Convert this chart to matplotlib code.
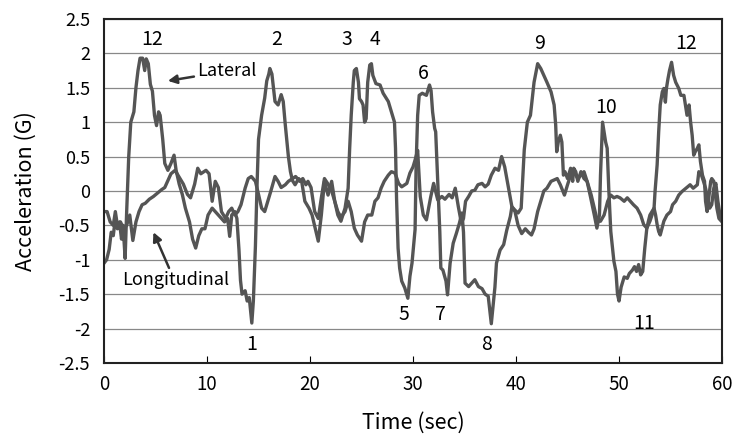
import matplotlib.pyplot as plt
import numpy as np

# lateral acceleration trace (time in sec, value in G)
lat_t = [0, 0.25, 0.5, 0.7, 0.9, 1.1, 1.3, 1.5, 1.7, 1.85, 2.05, 2.2, 2.4, 2.6, 2.9, 3.1, 3.3, 3.5,
         3.75, 3.95, 4.1, 4.3, 4.5, 4.7, 4.9, 5.1, 5.3, 5.45, 5.7, 5.9, 6.2, 6.5, 6.8, 7.0, 7.3,
         7.6, 7.9, 8.3, 8.6, 8.9, 9.2, 9.5, 9.8, 10.1, 10.5, 10.8, 11.1, 11.4, 11.7, 12.0, 12.2,
         12.4, 12.7, 12.9, 13.1, 13.25, 13.4, 13.7, 13.9, 14.1, 14.35, 14.5, 14.7, 14.85, 15.0,
         15.3, 15.6, 15.8, 16.0, 16.1, 16.3, 16.45, 16.6, 16.9, 17.2, 17.4, 17.6, 17.9, 18.1,
         18.3, 18.55, 18.9, 19.2, 19.5, 19.9, 20.2, 20.5, 20.8, 21.1, 21.4, 21.75, 22.1, 22.4,
         22.7, 23.0, 23.4, 23.7, 23.85, 24.0, 24.2, 24.3, 24.5, 24.7, 24.8, 25.0, 25.15, 25.3,
         25.45, 25.6, 25.8, 25.96, 26.1, 26.4, 26.8, 27.1, 27.6, 27.9, 28.2, 28.3, 28.4, 28.55,
         28.7, 28.9, 29.2, 29.5, 29.7, 29.9, 30.2, 30.3, 30.45, 30.6, 30.9, 31.3, 31.6, 31.75,
         31.9, 32.1, 32.2, 32.4, 32.6, 32.7, 32.9, 33.2, 33.35, 33.6, 33.9, 34.2, 34.5, 34.75,
         34.9, 35.05, 35.4, 35.7, 36.0, 36.35, 36.7, 37.0, 37.3, 37.6, 37.95, 38.1, 38.45, 38.8,
         39.1, 39.45, 39.6, 39.9, 40.2, 40.5, 40.8, 41.1, 41.4, 41.75, 42.1, 42.4, 42.7, 43.0,
         43.4, 43.7, 43.85, 43.95, 44.1, 44.3, 44.45, 44.6, 44.75, 45.0, 45.3, 45.5, 45.6, 45.8,
         46.0, 46.3, 46.6, 46.9, 47.25, 47.6, 47.85, 48.1, 48.2, 48.4, 48.55, 48.7, 48.85, 49.0,
         49.2, 49.5, 49.7, 49.85, 50.0, 50.2, 50.5, 50.8, 51.0, 51.3, 51.5, 51.7, 51.9, 52.1,
         52.3, 52.5, 52.7, 53.0, 53.2, 53.4, 53.5, 53.7, 53.85, 54.0, 54.2, 54.35, 54.5, 54.6,
         54.75, 54.9, 55.1, 55.3, 55.5, 55.8, 56.0, 56.3, 56.6, 56.8, 56.95, 57.1, 57.25, 57.4,
         57.6, 57.75, 57.9, 58.1, 58.3, 58.4, 58.55, 58.9, 59.0, 59.2, 59.35, 59.5, 59.7, 60.0]
lat_g = [-1.05, -1.0, -0.85, -0.6, -0.65, -0.4, -0.55, -0.45, -0.7, -0.5, -0.98, -0.3, 0.5, 1.0, 1.15, 1.5, 1.75, 1.93,
         1.93, 1.75, 1.92, 1.85, 1.55, 1.45, 1.1, 0.95, 1.15, 1.1, 0.75, 0.4, 0.3, 0.4, 0.52, 0.3, 0.1,
         -0.05, -0.25, -0.45, -0.7, -0.83, -0.65, -0.55, -0.55, -0.35, -0.25, -0.3, -0.35, -0.4, -0.45, -0.4, -0.66,
         -0.35, -0.3, -0.4, -0.85, -1.3, -1.5, -1.45, -1.6, -1.55, -1.92, -1.6, -0.8, 0.05, 0.75,
         1.1, 1.35, 1.6, 1.7, 1.78, 1.7, 1.5, 1.3, 1.25, 1.4, 1.3, 0.96, 0.5, 0.28,
         0.15, 0.09, 0.18, 0.13, -0.15, -0.25, -0.35, -0.54, -0.73, -0.35, 0.14, -0.06, 0.14, -0.15,
         -0.35, -0.44, -0.25, 0.04, 0.62, 1.1, 1.58, 1.75, 1.78, 1.58, 1.34, 1.3, 1.25, 1.0,
         1.05, 1.58, 1.83, 1.85, 1.68, 1.56, 1.54, 1.42, 1.3, 1.15, 1.0, 0.62, -0.1, -0.83,
         -1.12, -1.31, -1.41, -1.56, -1.24, -1.05, -0.56, 0.38, 1.1, 1.39, 1.42, 1.39, 1.54, 1.46,
         1.15, 0.91, 0.86, 0.14, -0.59, -1.12, -1.15, -1.31, -1.51, -1.05, -0.76, -0.62, -0.47, -0.32,
         -0.6, -1.34, -1.39, -1.34, -1.29, -1.39, -1.42, -1.5, -1.53, -1.93, -1.4, -1.05, -0.86, -0.78,
         -0.57, -0.37, -0.23, -0.28, -0.32, -0.25, 0.6, 1.0, 1.1, 1.58, 1.85, 1.78, 1.68, 1.58,
         1.44, 1.25, 0.96, 0.57, 0.71, 0.81, 0.71, 0.23, 0.28, 0.18, 0.33, 0.14, 0.33, 0.28,
         0.14, 0.28, 0.18, 0.14, -0.1, -0.35, -0.54, -0.35, 0.23, 1.0, 0.86, 0.71, 0.62, 0.04,
         -0.59, -1.02, -1.17, -1.5, -1.6, -1.4, -1.25, -1.27, -1.2, -1.15, -1.1, -1.17, -1.07, -1.22,
         -1.17, -0.83, -0.54, -0.44, -0.35, -0.25, 0.0, 0.38, 0.86, 1.25, 1.44, 1.49, 1.29, 1.49,
         1.63, 1.75, 1.87, 1.68, 1.58, 1.49, 1.39, 1.39, 1.1, 1.25, 1.0, 0.81, 0.52, 0.57,
         0.62, 0.67, 0.43, 0.23, 0.14, -0.15, -0.3, 0.14, 0.18, 0.14, -0.06, -0.25, -0.4, -0.45]

# longitudinal acceleration trace
lon_t = [0, 0.3, 0.6, 0.9, 1.1, 1.3, 1.6, 1.9, 2.2, 2.5, 2.8, 3.1, 3.4, 3.7, 4.0, 4.4, 4.8, 5.2,
         5.6, 5.9, 6.2, 6.5, 6.9, 7.3, 7.7, 8.1, 8.4, 8.8, 9.1, 9.4, 9.7, 9.9, 10.2, 10.5, 10.8,
         11.1, 11.4, 11.8, 12.1, 12.4, 12.7, 13.0, 13.3, 13.7, 14.0, 14.3, 14.7, 15.0, 15.3,
         15.6, 15.9, 16.2, 16.6, 16.9, 17.2, 17.6, 17.9, 18.3, 18.6, 19.0, 19.3, 19.6, 19.8,
         20.1, 20.45, 20.8, 21.1, 21.4, 21.75, 22.1, 22.4, 22.7, 23.0, 23.4, 23.7, 24.0, 24.3,
         24.6, 25.0, 25.3, 25.6, 26.0, 26.3, 26.6, 26.9, 27.2, 27.6, 27.9, 28.25, 28.6, 28.9,
         29.4, 29.7, 30.0, 30.2, 30.45, 30.7, 31.0, 31.3, 31.7, 32.0, 32.4, 32.8, 33.1, 33.5,
         33.8, 34.1, 34.4, 34.7, 34.9, 35.1, 35.4, 35.7, 36.0, 36.3, 36.7, 37.0, 37.3, 37.6,
         37.96, 38.3, 38.6, 38.9, 39.2, 39.6, 39.9, 40.2, 40.55, 40.9, 41.2, 41.5, 41.75, 42.1,
         42.4, 42.7, 43.0, 43.4, 43.7, 44.0, 44.3, 44.7, 45.0, 45.3, 45.6, 46.0, 46.3, 46.6,
         46.9, 47.3, 47.6, 47.9, 48.2, 48.55, 48.9, 49.2, 49.5, 49.8, 50.1, 50.5, 50.8, 51.1,
         51.4, 51.75, 52.1, 52.4, 52.7, 52.85, 53.0, 53.2, 53.4, 53.55, 53.7, 53.85, 54.0, 54.35,
         54.65, 55.0, 55.2, 55.5, 55.8, 56.1, 56.5, 56.9, 57.2, 57.6, 57.75, 58.0, 58.2, 58.4,
         58.6, 58.8, 59.0, 59.2, 59.4, 59.6, 59.8, 60.0]
lon_g = [-0.3, -0.3, -0.45, -0.5, -0.3, -0.5, -0.45, -0.55, -0.5, -0.35, -0.72, -0.45, -0.3, -0.2, -0.18, -0.12, -0.08, -0.03,
         0.02, 0.05, 0.15, 0.25, 0.3, 0.2, 0.1, -0.05, -0.1, 0.1, 0.33, 0.25, 0.28, 0.3, 0.25, -0.15, 0.14,
         0.05, -0.3, -0.4, -0.3, -0.25, -0.35, -0.3, -0.2, 0.04, 0.18, 0.21, 0.14, -0.05, -0.25,
         -0.3, -0.15, 0.0, 0.21, 0.14, 0.05, 0.09, 0.14, 0.18, 0.21, 0.14, 0.18, 0.09, 0.14,
         0.05, -0.3, -0.4, -0.1, 0.18, 0.1, 0.0, -0.15, -0.3, -0.38, -0.3, -0.15, -0.3, -0.54,
         -0.64, -0.73, -0.45, -0.35, -0.35, -0.15, -0.1, 0.04, 0.14, 0.23, 0.28, 0.26, 0.11, 0.06,
         0.11, 0.26, 0.35, 0.45, 0.59, -0.08, -0.35, -0.42, -0.1, 0.11, -0.13, -0.08, -0.12, -0.05,
         -0.1, 0.04, -0.23, -0.47, -0.4, -0.15, -0.08, 0.0, 0.01, 0.09, 0.11, 0.06, 0.1, 0.23,
         0.33, 0.3, 0.5, 0.35, 0.1, -0.23, -0.3, -0.5, -0.62, -0.55, -0.6, -0.64, -0.55, -0.3,
         -0.15, 0.0, 0.04, 0.14, 0.16, 0.18, 0.09, -0.06, 0.09, 0.23, 0.28, 0.18, 0.23, 0.28,
         0.14, -0.06, -0.25, -0.44, -0.44, -0.35, -0.15, -0.06, -0.1, -0.08, -0.1, -0.15, -0.1, -0.15,
         -0.2, -0.25, -0.35, -0.49, -0.54, -0.44, -0.35, -0.3, -0.25, -0.35, -0.49, -0.59, -0.64, -0.44,
         -0.35, -0.3, -0.2, -0.15, -0.06, -0.01, 0.04, 0.09, 0.04, 0.09, 0.28, 0.23, 0.14, 0.04,
         -0.1, -0.25, -0.2, 0.04, 0.11, -0.15, -0.35, -0.4]

# turn numbers: label, time, accel
turn_labels = ['12', '2', '3', '4', '6', '9', '10', '12', '1', '5', '7', '8', '11']
turn_t = [4.7, 16.8, 23.6, 26.3, 31.0, 42.3, 48.7, 56.5, 14.3, 29.1, 32.7, 37.1, 52.4]
turn_g = [2.2, 2.2, 2.2, 2.2, 1.71, 2.15, 1.22, 2.15, -2.23, -1.8, -1.8, -2.23, -1.92]

yticks = [2.5, 2, 1.5, 1, 0.5, 0, -0.5, -1, -1.5, -2, -2.5]
ytick_labels = ['2.5', '2', '1.5', '1', '0.5', '0', '-0.5', '-1', '-1.5', '-2', '-2.5']
xticks = [0, 10, 20, 30, 40, 50, 60]

plt.rcParams['font.family'] = ['Noto Sans CJK JP', 'DejaVu Sans']

fig = plt.figure(figsize=(7.34, 4.41), dpi=100)
ax = fig.add_axes([0.1417, 0.177, 0.8420, 0.780])

line_col = '#555555'
ax.plot(lat_t, lat_g, color=line_col, lw=2.4, solid_joinstyle='round')
ax.plot(lon_t, lon_g, color=line_col, lw=2.4, solid_joinstyle='round')

ax.set_xlim(0, 60)
ax.set_ylim(-2.5, 2.5)
ax.set_yticks(yticks)
ax.set_yticklabels(ytick_labels)
ax.set_xticks(xticks)
ax.yaxis.grid(True, color='#888888', lw=0.9)
ax.set_axisbelow(True)
ax.tick_params(axis='y', length=0, labelsize=13, pad=10)
ax.tick_params(axis='x', direction='in', length=5, labelsize=13.5, pad=8)
for s in ax.spines.values():
    s.set_linewidth(1.5)
    s.set_color('#222222')

for lab, t, g in zip(turn_labels, turn_t, turn_g):
    ax.text(t, g, lab, fontsize=14, ha='center', va='center')

ax.annotate('Lateral', xy=(6.2, 1.6), xytext=(9.0, 1.74), fontsize=13, va='center',
            arrowprops=dict(arrowstyle='-|>', color='#333333', lw=1.8, shrinkA=0, shrinkB=0))
ax.annotate('Longitudinal', xy=(4.8, -0.6), xytext=(1.75, -1.29), fontsize=13, va='center',
            arrowprops=dict(arrowstyle='-|>', color='#333333', lw=1.8, shrinkA=0, shrinkB=0,
                            relpos=(0.45, 1.0)))

ax.set_xlabel('Time (sec)', fontsize=15.5, labelpad=12)
ax.set_ylabel('Acceleration (G)', fontsize=15.5, labelpad=16)

fig.savefig('out.png', dpi=100)
